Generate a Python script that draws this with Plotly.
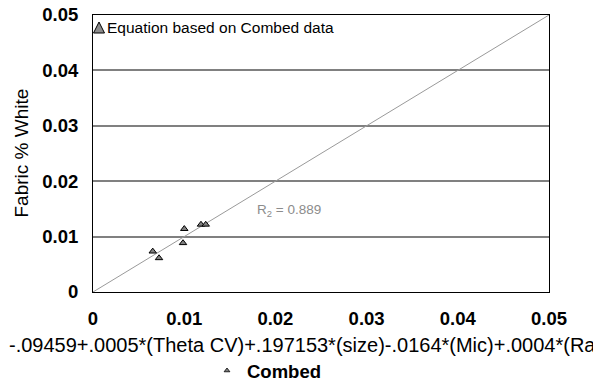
import plotly.graph_objects as go

# Data
pred_x = [0.00655, 0.00724, 0.01001, 0.00987, 0.01184, 0.01236]
actual_y = [0.00733, 0.00613, 0.0114, 0.00885, 0.01218, 0.01218]
line_x = [0.0, 0.05]
line_y = [0.0, 0.05]
tick_vals = [0, 0.01, 0.02, 0.03, 0.04, 0.05]
tick_text = ["0", "0.01", "0.02", "0.03", "0.04", "0.05"]

FONT = "Liberation Sans, Arial, sans-serif"
W, H = 593, 383
L, R, T, B = 93, 44, 15, 91
PW, PH = W - L - R, H - T - B


def px(xp):
    return (xp - L) / PW


def py(yp):
    return (H - B - yp) / PH


fig = go.Figure()
fig.add_trace(go.Scatter(x=line_x, y=line_y, mode="lines",
                         line=dict(color="#9a9a9a", width=1), showlegend=False, hoverinfo="skip"))
fig.add_trace(go.Scatter(x=pred_x, y=actual_y, mode="markers", name="Combed",
                         marker=dict(symbol="triangle-up", size=6.5, color="#808080",
                                     line=dict(color="black", width=1)),
                         showlegend=False))
# legend entry (bottom)
fig.add_trace(go.Scatter(x=[None], y=[None], mode="markers", name="Combed",
                         marker=dict(symbol="triangle-up", size=5, color="#808080",
                                     line=dict(color="black", width=0.8))))

fig.update_layout(
    width=W, height=H,
    margin=dict(l=L, r=R, t=T, b=B, autoexpand=False),
    paper_bgcolor="white", plot_bgcolor="white",
    font=dict(family=FONT, color="black"),
    xaxis=dict(range=[0, 0.05], tickvals=tick_vals, ticktext=tick_text, showgrid=False,
               zeroline=False, showline=True, linecolor="black", linewidth=1, mirror=True,
               ticks="", tickfont=dict(size=18.5, family=FONT, weight="bold"),
               ticklabelstandoff=10),
    yaxis=dict(range=[0, 0.05], tickvals=tick_vals, ticktext=tick_text, showgrid=True,
               gridcolor="#808080", gridwidth=2, zeroline=False, showline=True,
               linecolor="black", linewidth=1, mirror=True, ticks="",
               tickfont=dict(size=18.5, family=FONT, weight="bold"), ticklabelstandoff=10),
    showlegend=True,
    legend=dict(orientation="h", xref="container", yref="container",
                x=207 / W, y=1 - 371 / H, xanchor="left", yanchor="middle",
                font=dict(size=18.5, family=FONT, weight="bold"), itemsizing="trace",
                bgcolor="rgba(0,0,0,0)"),
    shapes=[
        dict(type="path", xref="paper", yref="paper",
             path=f"M {px(93.5)} {py(33)} L {px(104.5)} {py(33)} L {px(99)} {py(22)} Z",
             fillcolor="#8c8c8c", line=dict(color="black", width=1)),
    ],
    annotations=[
        dict(text="Equation based on Combed data", x=px(105), y=py(27.5),
             xref="paper", yref="paper", xanchor="left", yanchor="middle", showarrow=False,
             font=dict(size=15.5, family=FONT)),
        dict(text="Fabric % White", x=px(21), y=0.5, xref="paper", yref="paper",
             textangle=-90, xanchor="center", yanchor="middle", showarrow=False,
             font=dict(size=19, family=FONT)),
        dict(text="R<sub>2</sub> = 0.889", x=0.0178, y=0.0147, xref="x", yref="y",
             xanchor="left", yanchor="middle", showarrow=False,
             font=dict(size=13.5, family=FONT, color="#8c8c8c")),
        dict(text="-.09459+.0005*(Theta CV)+.197153*(size)-.0164*(Mic)+.0004*(Rank)",
             x=px(7), y=py(345), xref="paper", yref="paper",
             xanchor="left", yanchor="middle", showarrow=False,
             font=dict(size=20, family=FONT)),
    ],
)

fig.write_html("out.html")
